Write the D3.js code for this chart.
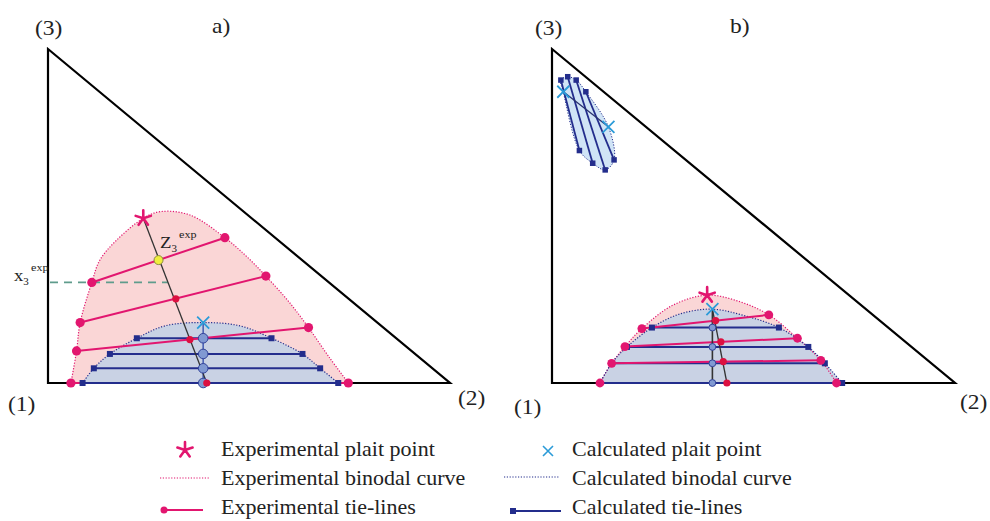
<!DOCTYPE html>
<html><head><meta charset="utf-8">
<script src="https://cdn.jsdelivr.net/npm/d3@7"></script>
<style>body{margin:0;background:#fff}svg{display:block}</style>
</head><body>
<svg id="chart" width="990" height="521"></svg>
<script>
// Compositions are mole fractions [x2, x3]; x1 = 1 - x2 - x3.

// ---- a) ----
const expBinodalA = [[0.057,0],[0.071,0.096],[0.080,0.181],[0.109,0.301],[0.129,0.368],[0.171,0.428],
  [0.237,0.493],[0.279,0.513],[0.353,0.503],[0.440,0.435],[0.493,0.380],[0.542,0.320],[0.600,0.242],
  [0.648,0.166],[0.699,0.078],[0.747,0]];
const expTieLinesA = [
  [[0.109,0.301],[0.440,0.435]],
  [[0.080,0.181],[0.542,0.320]],
  [[0.071,0.096],[0.648,0.166]],
  [[0.057,0],[0.747,0]]
];
const expFeedA = [[0.275,0.368],[0.318,0.252],[0.353,0.130],[0.395,0]];
const expPlaitA = [0.237,0.493];
const calcBinodalA = [[0.086,0],[0.114,0.044],[0.154,0.087],[0.221,0.134],[0.291,0.171],[0.386,0.181],
  [0.478,0.171],[0.556,0.134],[0.633,0.087],[0.677,0.044],[0.722,0]];
const calcTieLinesA = [
  [[0.221,0.134],[0.556,0.134]],
  [[0.154,0.087],[0.633,0.087]],
  [[0.114,0.044],[0.677,0.044]],
  [[0.086,0],[0.722,0]]
];
const calcFeedA = [[0.386,0.134],[0.386,0.087],[0.386,0.044],[0.386,0]];
const calcPlaitA = [0.386,0.181];
const x3ExpA = 0.3015;

// ---- b) ----
const expBinodalB = [[0.119,0],[0.148,0.059],[0.181,0.109],[0.223,0.163],[0.300,0.233],[0.385,0.263],
  [0.467,0.243],[0.538,0.204],[0.609,0.134],[0.667,0.068],[0.706,0]];
const expTieLinesB = [
  [[0.223,0.163],[0.538,0.204]],
  [[0.181,0.109],[0.609,0.134]],
  [[0.148,0.059],[0.667,0.068]],
  [[0.119,0],[0.706,0]]
];
const expFeedB = [[0.406,0.187],[0.419,0.123],[0.425,0.064],[0.434,0]];
const expPlaitB = [0.385,0.263];
const calcBinodalB = [[0.119,0],[0.148,0.059],[0.186,0.108],[0.248,0.166],[0.318,0.207],[0.398,0.221],
  [0.479,0.201],[0.563,0.166],[0.636,0.108],[0.677,0.059],[0.720,0]];
const calcTieLinesB = [
  [[0.248,0.166],[0.563,0.166]],
  [[0.186,0.108],[0.636,0.108]],
  [[0.148,0.059],[0.677,0.059]],
  [[0.119,0],[0.720,0]]
];
const calcFeedB = [[0.398,0.166],[0.398,0.108],[0.398,0.059],[0.398,0]];
const calcPlaitB = [0.398,0.221];
// second (calculated) two-phase region near vertex (3)
const islandTieLinesB = [
  [[0.022,0.907],[0.068,0.696]],
  [[0.039,0.917],[0.101,0.658]],
  [[0.060,0.907],[0.132,0.638]],
  [[0.084,0.872],[0.154,0.668]]
];
const islandPlaitsB = [[0.028,0.872],[0.140,0.767]];

const vertexLabels = ["(1)","(2)","(3)"];
const panelLabels = ["a)","b)"];
const legendLabels = ["Experimental plait point","Calculated plait point",
  "Experimental binodal curve","Calculated binodal curve",
  "Experimental tie-lines","Calculated tie-lines"];

const C = {
  pink:"#e2166f", pinkFill:"#fad6d6", navy:"#232d8c", blueFill:"#c9d2e4",
  circle:"#8099d2", feed:"#dc1040", cyan:"#2b9bd8", island:"#d0e4f6", tri:"#000"
};

const svg = d3.select("#chart");
const serif = "'Liberation Serif','Times New Roman',serif";

function starPath(cx, cy, r){
  let p = "";
  for (let k=0;k<5;k++){
    const a = (-90 + 72*k)*Math.PI/180;
    p += `M${cx},${cy}L${cx+r*Math.cos(a)},${cy+r*Math.sin(a)}`;
  }
  return p;
}
function xPath(cx, cy, r){
  return `M${cx-r},${cy-r}L${cx+r},${cy+r}M${cx-r},${cy+r}L${cx+r},${cy-r}`;
}
function label(g, txt, x, y, size, sx){
  g.append("text").attr("transform",`translate(${x},${y}) scale(${sx||1.12},1)`)
    .attr("font-family",serif).attr("font-size",size).attr("fill","#222").text(txt);
}

function panel(opt){
  const g = svg.append("g");
  const x = d3.scaleLinear().domain([0,1]).range([opt.x0, opt.x1]);
  const y = d3.scaleLinear().domain([0,1]).range([383, 49]);
  const P = d => [x(d[0]), y(d[1])];
  const curve = d3.line().x(d=>x(d[0])).y(d=>y(d[1])).curve(d3.curveCatmullRom.alpha(0.5));
  const closed = pts => curve(pts) + "Z";

  // two-phase regions
  g.append("path").attr("d", closed(opt.expBinodal)).attr("fill", C.pinkFill);
  g.append("path").attr("d", closed(opt.calcBinodal)).attr("fill", C.blueFill);
  if (opt.island){
    const ring = [opt.islandPlaits[0], ...opt.island.map(t=>t[0]), opt.islandPlaits[1],
      ...opt.island.map(t=>t[1]).reverse()];
    const cl = d3.line().x(d=>x(d[0])).y(d=>y(d[1])).curve(d3.curveCatmullRomClosed.alpha(0.5));
    g.append("path").attr("d", cl(ring)).attr("fill", C.island)
      .attr("stroke", C.navy).attr("stroke-width",1).attr("stroke-dasharray","1.2,1.6");
  }

  // triangle
  g.append("path").attr("d", d3.line()([[x(0),y(1)],[x(0),y(0)],[x(1),y(0)]]) + "Z")
    .attr("fill","none").attr("stroke",C.tri).attr("stroke-width",2.2).attr("stroke-linejoin","miter");

  // binodal curves
  g.append("path").attr("d", curve(opt.expBinodal)).attr("fill","none")
    .attr("stroke",C.pink).attr("stroke-width",1.2).attr("stroke-dasharray","1.2,1.6");
  g.append("path").attr("d", curve(opt.calcBinodal)).attr("fill","none")
    .attr("stroke",C.navy).attr("stroke-width",1.2).attr("stroke-dasharray","1.2,1.6");

  if (opt.x3exp !== undefined){
    g.append("line").attr("x1",x(0)+2).attr("x2",x(0.298)).attr("y1",y(opt.x3exp)).attr("y2",y(opt.x3exp))
      .attr("stroke","#5f9c8c").attr("stroke-width",1.8).attr("stroke-dasharray","8,6");
  }

  // tie-lines: binary (x3 = 0) experimental line sits under the calculated ones
  const tl = (sel, data, color, w) => sel.selectAll(null).data(data).enter().append("line")
    .attr("x1",d=>x(d[0][0])).attr("y1",d=>y(d[0][1])).attr("x2",d=>x(d[1][0])).attr("y2",d=>y(d[1][1]))
    .attr("stroke",color).attr("stroke-width",w);
  const binary = t => t[0][1] === 0 && t[1][1] === 0;
  tl(g, opt.expTies.filter(binary), C.pink, 2);
  tl(g, opt.calcTies, C.navy, 2);
  if (opt.island) {
    tl(g, opt.island, C.navy, 1.8);
    tl(g, [opt.islandPlaits], "#2a3270", 1.3);
  }
  tl(g, opt.expTies.filter(t => !binary(t)), C.pink, 2);

  // feed lines
  const calcTop = opt.calcPlait, calcBot = opt.calcFeed[opt.calcFeed.length-1];
  g.append("line").attr("x1",x(calcTop[0])).attr("y1",y(calcTop[1])).attr("x2",x(calcBot[0])).attr("y2",y(calcBot[1]))
    .attr("stroke",opt.calcFeedColor).attr("stroke-width",1.6);
  const expTop = opt.expFeedFrom, expBot = opt.expFeed[opt.expFeed.length-1];
  g.append("line").attr("x1",x(expTop[0])).attr("y1",y(expTop[1])).attr("x2",x(expBot[0])).attr("y2",y(expBot[1]))
    .attr("stroke","#333").attr("stroke-width",1.3);

  // markers
  const sq = (data, s) => g.selectAll(null).data(data).enter().append("rect")
    .attr("x",d=>x(d[0])-s/2).attr("y",d=>y(d[1])-s/2).attr("width",s).attr("height",s).attr("fill",C.navy);
  sq(opt.calcTies.flat(), 6);
  if (opt.island) sq(opt.island.flat(), 5.5);
  g.selectAll(null).data(opt.calcFeed).enter().append("circle")
    .attr("cx",d=>x(d[0])).attr("cy",d=>y(d[1])).attr("r",opt.circR)
    .attr("fill",C.circle).attr("stroke","#33449a").attr("stroke-width",1);
  g.selectAll(null).data(opt.expTies.flat()).enter().append("circle")
    .attr("cx",d=>x(d[0])).attr("cy",d=>y(d[1])).attr("r",opt.dotR).attr("fill",C.pink);
  g.selectAll(null).data(opt.expFeed).enter().append("circle")
    .attr("cx",d=>x(d[0])).attr("cy",d=>y(d[1])).attr("r",(d,i)=> i===0 && opt.yellowFirst ? 4.5 : 3.6)
    .attr("fill",(d,i)=> i===0 && opt.yellowFirst ? "#f0ee3c" : C.feed)
    .attr("stroke",(d,i)=> i===0 && opt.yellowFirst ? "#8a8a40" : "none").attr("stroke-width",1);

  g.append("path").attr("d", starPath(...P(opt.expPlait), 8)).attr("stroke",C.pink)
    .attr("stroke-width",2.6).attr("stroke-linecap","round").attr("fill","none");
  const xs = [opt.calcPlait].concat(opt.islandPlaits || []);
  xs.forEach(d => g.append("path").attr("d", xPath(...P(d), 6)).attr("stroke",C.cyan)
    .attr("stroke-width",1.8).attr("fill","none"));
  return g;
}

const ga = panel({x0:48, x1:450, expBinodal:expBinodalA, calcBinodal:calcBinodalA,
  expTies:expTieLinesA, calcTies:calcTieLinesA, expFeed:expFeedA, calcFeed:calcFeedA,
  expPlait:expPlaitA, calcPlait:calcPlaitA, expFeedFrom:expPlaitA, x3exp:x3ExpA,
  calcFeedColor:"#4a62b4", circR:4.8, dotR:4.6, yellowFirst:true});
const gb = panel({x0:552, x1:955, expBinodal:expBinodalB, calcBinodal:calcBinodalB,
  expTies:expTieLinesB, calcTies:calcTieLinesB, expFeed:expFeedB, calcFeed:calcFeedB,
  expPlait:expPlaitB, calcPlait:calcPlaitB, expFeedFrom:calcPlaitB,
  island:islandTieLinesB, islandPlaits:islandPlaitsB,
  calcFeedColor:"#333", circR:3.4, dotR:4.4, yellowFirst:false});

// vertex and panel labels
label(svg, vertexLabels[2], 35, 35, 21);
label(svg, panelLabels[0], 212, 33, 21);
label(svg, vertexLabels[0], 8, 411, 21);
label(svg, vertexLabels[1], 458, 405, 21);
label(svg, vertexLabels[2], 535, 35, 21);
label(svg, panelLabels[1], 730, 33, 21);
label(svg, vertexLabels[0], 514, 414, 21);
label(svg, vertexLabels[1], 960, 409, 21);

// x3exp and z3exp annotations
const ann = (g, main, sub, sup, x, y) => {
  const t = g.append("text").attr("font-family",serif).attr("fill","#222")
    .attr("transform",`translate(${x},${y}) scale(1.1,1)`);
  t.append("tspan").attr("font-size",17).text(main);
  t.append("tspan").attr("font-size",10).attr("dy",4).text(sub);
  t.append("tspan").attr("font-size",11).attr("dy",-14).attr("dx",2).text(sup);
};
ann(svg, "x", "3", "exp", 14, 281);
ann(svg, "Z", "3", "exp", 160, 248);

// legend
const lg = svg.append("g");
const rows = [456, 485, 514];
const lx = [221, 572];
legendLabels.forEach((t,i) => label(lg, t, lx[i%2], rows[Math.floor(i/2)], 20, 1.1));
lg.append("path").attr("d", starPath(185, 450, 8)).attr("stroke",C.pink)
  .attr("stroke-width",2.6).attr("stroke-linecap","round").attr("fill","none");
lg.append("path").attr("d", xPath(548, 451, 5)).attr("stroke",C.cyan).attr("stroke-width",1.6).attr("fill","none");
lg.append("line").attr("x1",160).attr("x2",210).attr("y1",478).attr("y2",478)
  .attr("stroke",C.pink).attr("stroke-width",1.2).attr("stroke-dasharray","1.2,1.6");
lg.append("line").attr("x1",504).attr("x2",560).attr("y1",477).attr("y2",477)
  .attr("stroke",C.navy).attr("stroke-width",1.2).attr("stroke-dasharray","1.2,1.6");
lg.append("line").attr("x1",163).attr("x2",203).attr("y1",510).attr("y2",510).attr("stroke",C.pink).attr("stroke-width",2);
lg.append("circle").attr("cx",164).attr("cy",510).attr("r",3.5).attr("fill",C.pink);
lg.append("line").attr("x1",513).attr("x2",561).attr("y1",511).attr("y2",511).attr("stroke",C.navy).attr("stroke-width",2);
lg.append("rect").attr("x",510).attr("y",508).attr("width",6).attr("height",6).attr("fill",C.navy);
</script>
</body></html>
